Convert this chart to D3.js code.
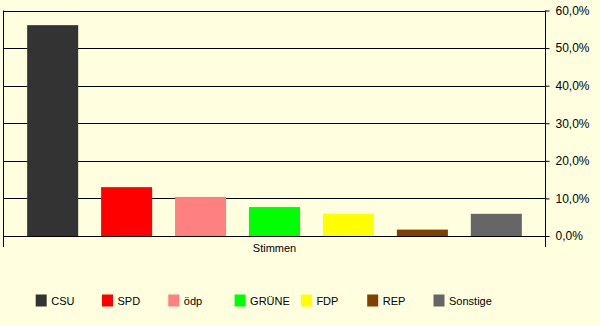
<!DOCTYPE html>
<html>
<head>
<meta charset="utf-8">
<script src="https://cdn.jsdelivr.net/npm/d3@7"></script>
<style>
  html, body { margin: 0; padding: 0; background: #ffffe0; }
  svg { display: block; font-family: "Liberation Sans", Arial, sans-serif; }
</style>
</head>
<body>
<svg id="chart" width="600" height="326"></svg>
<script>
// Stimmenanteile je Partei
const parties = ["CSU", "SPD", "ödp", "GRÜNE", "FDP", "REP", "Sonstige"];
const shares = [56.1, 13.0, 10.4, 7.7, 5.9, 1.7, 5.9];
const colors = ["#333333", "#ff0000", "#ff8080", "#00ff00", "#ffff00", "#804000", "#666666"];
const yTicks = [0, 10, 20, 30, 40, 50, 60];
const categoryLabel = "Stimmen";

const svg = d3.select("#chart");
const W = 600, H = 326;

svg.append("rect").attr("width", W).attr("height", H).attr("fill", "#ffffe0");

const plot = { left: 3.5, right: 545.5, top: 10.5, bottom: 236 };

const x = d3.scaleBand()
  .domain(parties)
  .range([plot.left, plot.right])
  .paddingInner(0.31)
  .paddingOuter(0.32);

const y = d3.scaleLinear()
  .domain([0, 60])
  .range([plot.bottom, plot.top]);

// Gitterlinien
svg.append("g")
  .selectAll("line")
  .data(yTicks)
  .join("line")
  .attr("x1", plot.left)
  .attr("x2", plot.right)
  .attr("y1", d => Math.round(y(d)) + 0.5)
  .attr("y2", d => Math.round(y(d)) + 0.5)
  .attr("stroke", "#000")
  .attr("stroke-width", 1);

// Balken
svg.append("g")
  .selectAll("rect")
  .data(parties)
  .join("rect")
  .attr("x", d => x(d))
  .attr("width", x.bandwidth())
  .attr("y", (d, i) => y(shares[i]))
  .attr("height", (d, i) => plot.bottom - y(shares[i]))
  .attr("fill", (d, i) => colors[i]);

// linke Begrenzung
svg.append("line")
  .attr("x1", plot.left).attr("x2", plot.left)
  .attr("y1", plot.top).attr("y2", 247)
  .attr("stroke", "#000");

// rechte Achse
const fmt = d => d3.format(".1f")(d).replace(".", ",") + "%";
const axis = svg.append("g")
  .attr("transform", `translate(${plot.right},0)`)
  .call(d3.axisRight(y).tickValues(yTicks).tickSize(4).tickPadding(6).tickFormat(fmt));
axis.select(".domain").remove();
axis.selectAll(".tick line").attr("stroke", "#000");
axis.selectAll(".tick text")
  .attr("fill", "#000")
  .style("font-size", "12px")
  .style("font-family", "\"Liberation Sans\", Arial, sans-serif");
svg.append("line")
  .attr("x1", plot.right).attr("x2", plot.right)
  .attr("y1", plot.top).attr("y2", 247)
  .attr("stroke", "#000");

// Kategorie-Beschriftung
svg.append("text")
  .attr("x", (plot.left + plot.right) / 2)
  .attr("y", 252)
  .attr("text-anchor", "middle")
  .style("font-size", "11px")
  .text(categoryLabel);

// Legende
const legend = svg.append("g")
  .selectAll("g")
  .data(parties)
  .join("g")
  .attr("transform", (d, i) => `translate(${35.7 + i * 66.3},294.5)`);
legend.append("rect")
  .attr("width", 11)
  .attr("height", 12)
  .attr("fill", (d, i) => colors[i]);
legend.append("text")
  .attr("x", 15.5)
  .attr("y", 10)
  .style("font-size", "11px")
  .text(d => d);
</script>
</body>
</html>
